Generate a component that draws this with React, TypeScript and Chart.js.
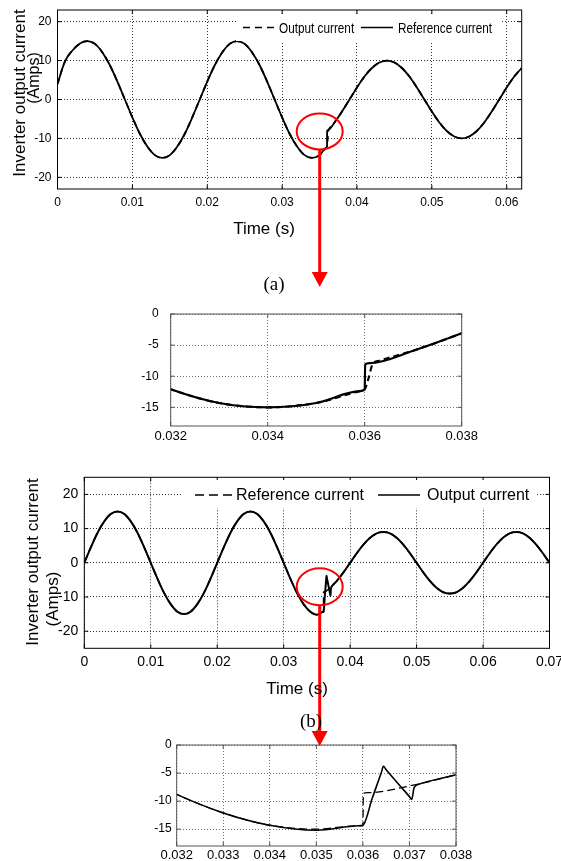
import React, { useEffect, useRef } from "react";
import { Chart, registerables } from "chart.js";

Chart.register(...registerables);

// ---------------- (a) data ----------------
const timeRefA = [0, 0.001, 0.002, 0.003, 0.004, 0.005, 0.006, 0.007, 0.008, 0.009,
  0.010, 0.011, 0.012, 0.013, 0.014, 0.015, 0.016, 0.017, 0.018, 0.019,
  0.020, 0.021, 0.022, 0.023, 0.024, 0.025, 0.026, 0.027, 0.028, 0.029,
  0.030, 0.031, 0.032, 0.033, 0.034, 0.035, 0.0359, 0.036, 0.03601, 0.0361,
  0.037, 0.038, 0.039, 0.040, 0.041, 0.042, 0.043, 0.044, 0.045, 0.046,
  0.047, 0.048, 0.049, 0.050, 0.051, 0.052, 0.053, 0.054, 0.055, 0.056,
  0.057, 0.058, 0.059, 0.060, 0.061, 0.062];
const refCurrentA = [4.0, 9.8, 12.6, 14.4, 15.0, 14.3, 12.1, 8.8, 4.6, 0,
  -4.6, -8.8, -12.1, -14.3, -15.0, -14.3, -12.1, -8.8, -4.6, 0,
  4.6, 8.8, 12.1, 14.3, 15.0, 14.3, 12.1, 8.8, 4.6, 0,
  -4.6, -8.8, -12.1, -14.3, -15.0, -14.3, -12.4, -12.1, -8.1, -7.9,
  -5.9, -3.1, 0, 3.1, 5.9, 8.1, 9.5, 10.0, 9.5, 8.1,
  5.9, 3.1, 0, -3.1, -5.9, -8.1, -9.5, -10.0, -9.5, -8.1,
  -5.9, -3.1, 0, 3.1, 5.9, 8.1];
const timeOutA = [0, 0.001, 0.002, 0.003, 0.004, 0.005, 0.006, 0.007, 0.008, 0.009,
  0.010, 0.011, 0.012, 0.013, 0.014, 0.015, 0.016, 0.017, 0.018, 0.019,
  0.020, 0.021, 0.022, 0.023, 0.024, 0.025, 0.026, 0.027, 0.028, 0.029,
  0.030, 0.031, 0.032, 0.033, 0.034, 0.035, 0.0359, 0.036, 0.03608, 0.03616, 0.0363,
  0.037, 0.038, 0.039, 0.040, 0.041, 0.042, 0.043, 0.044, 0.045, 0.046,
  0.047, 0.048, 0.049, 0.050, 0.051, 0.052, 0.053, 0.054, 0.055, 0.056,
  0.057, 0.058, 0.059, 0.060, 0.061, 0.062];
const outCurrentA = [4.0, 9.8, 12.6, 14.4, 15.0, 14.3, 12.1, 8.8, 4.6, 0,
  -4.6, -8.8, -12.1, -14.3, -15.0, -14.3, -12.1, -8.8, -4.6, 0,
  4.6, 8.8, 12.1, 14.3, 15.0, 14.3, 12.1, 8.8, 4.6, 0,
  -4.6, -8.8, -12.1, -14.3, -15.0, -14.3, -12.4, -12.1, -10.3, -8.1, -7.5,
  -5.9, -3.1, 0, 3.1, 5.9, 8.1, 9.5, 10.0, 9.5, 8.1,
  5.9, 3.1, 0, -3.1, -5.9, -8.1, -9.5, -10.0, -9.5, -8.1,
  -5.9, -3.1, 0, 3.1, 5.9, 8.1];

// ---------------- (b) data ----------------
const timeRefB = [0, 0.001, 0.002, 0.003, 0.004, 0.005, 0.006, 0.007, 0.008, 0.009,
  0.010, 0.011, 0.012, 0.013, 0.014, 0.015, 0.016, 0.017, 0.018, 0.019,
  0.020, 0.021, 0.022, 0.023, 0.024, 0.025, 0.026, 0.027, 0.028, 0.029,
  0.030, 0.031, 0.032, 0.033, 0.034, 0.035, 0.0359, 0.036, 0.03601, 0.0361,
  0.037, 0.038, 0.039, 0.040, 0.041, 0.042, 0.043, 0.044, 0.045, 0.046,
  0.047, 0.048, 0.049, 0.050, 0.051, 0.052, 0.053, 0.054, 0.055, 0.056,
  0.057, 0.058, 0.059, 0.060, 0.061, 0.062, 0.063, 0.064, 0.065, 0.066,
  0.067, 0.068, 0.069, 0.070];
const refCurrentB = [0, 4.6, 8.8, 12.1, 14.3, 15.0, 14.3, 12.1, 8.8, 4.6,
  0, -4.6, -8.8, -12.1, -14.3, -15.0, -14.3, -12.1, -8.8, -4.6,
  0, 4.6, 8.8, 12.1, 14.3, 15.0, 14.3, 12.1, 8.8, 4.6,
  0, -4.6, -8.8, -12.1, -14.3, -15.0, -14.4, -14.3, -8.6, -8.5,
  -7.3, -5.3, -2.8, 0, 2.8, 5.3, 7.3, 8.6, 9.0, 8.6,
  7.3, 5.3, 2.8, 0, -2.8, -5.3, -7.3, -8.6, -9.0, -8.6,
  -7.3, -5.3, -2.8, 0, 2.8, 5.3, 7.3, 8.6, 9.0, 8.6,
  7.3, 5.3, 2.8, 0];
const timeOutB = [0, 0.001, 0.002, 0.003, 0.004, 0.005, 0.006, 0.007, 0.008, 0.009,
  0.010, 0.011, 0.012, 0.013, 0.014, 0.015, 0.016, 0.017, 0.018, 0.019,
  0.020, 0.021, 0.022, 0.023, 0.024, 0.025, 0.026, 0.027, 0.028, 0.029,
  0.030, 0.031, 0.032, 0.033, 0.034, 0.035, 0.0359, 0.036,
  0.0362, 0.0364, 0.03644, 0.0365, 0.0368, 0.0370, 0.03705, 0.0371, 0.0372,
  0.038, 0.039, 0.040, 0.041, 0.042, 0.043, 0.044, 0.045, 0.046,
  0.047, 0.048, 0.049, 0.050, 0.051, 0.052, 0.053, 0.054, 0.055, 0.056,
  0.057, 0.058, 0.059, 0.060, 0.061, 0.062, 0.063, 0.064, 0.065, 0.066,
  0.067, 0.068, 0.069, 0.070];
const outCurrentB = [0, 4.6, 8.8, 12.1, 14.3, 15.0, 14.3, 12.1, 8.8, 4.6,
  0, -4.6, -8.8, -12.1, -14.3, -15.0, -14.3, -12.1, -8.8, -4.6,
  0, 4.6, 8.8, 12.1, 14.3, 15.0, 14.3, 12.1, 8.8, 4.6,
  0, -4.6, -8.8, -12.1, -14.3, -15.2, -14.4, -14.3,
  -9.5, -4.8, -3.8, -4.4, -7.3, -9.2, -9.7, -7.6, -7.0,
  -5.3, -2.8, 0, 2.8, 5.3, 7.3, 8.6, 9.0, 8.6,
  7.3, 5.3, 2.8, 0, -2.8, -5.3, -7.3, -8.6, -9.0, -8.6,
  -7.3, -5.3, -2.8, 0, 2.8, 5.3, 7.3, 8.6, 9.0, 8.6,
  7.3, 5.3, 2.8, 0];

// ---------------- ticks ----------------
const xTicksA = [0, 0.01, 0.02, 0.03, 0.04, 0.05, 0.06];
const xLabelsA = ["0", "0.01", "0.02", "0.03", "0.04", "0.05", "0.06"];
const xTicksB = [0, 0.01, 0.02, 0.03, 0.04, 0.05, 0.06, 0.07];
const xLabelsB = ["0", "0.01", "0.02", "0.03", "0.04", "0.05", "0.06", "0.07"];
const yTicksMain = [20, 10, 0, -10, -20];
const yLabelsMain = ["20", "10", "0", "-10", "-20"];
const xTicksZoomA = [0.032, 0.034, 0.036, 0.038];
const xLabelsZoomA = ["0.032", "0.034", "0.036", "0.038"];
const xTicksZoomB = [0.032, 0.033, 0.034, 0.035, 0.036, 0.037, 0.038];
const xLabelsZoomB = ["0.032", "0.033", "0.034", "0.035", "0.036", "0.037", "0.038"];
const yTicksZoom = [0, -5, -10, -15];
const yLabelsZoom = ["0", "-5", "-10", "-15"];

const FONT = "'Liberation Sans', Arial, Helvetica, sans-serif";
const SERIF = "'Liberation Serif', 'Times New Roman', Times, serif";

type Geo = { L: number; T: number; R: number; B: number; cx: number; cy: number; cw: number; ch: number };
type Series = { label: string; t: number[]; v: number[]; dash: number[]; width: number };
type Mark = { x: number; y: number; rx: number; ry: number; tipY: number };
type Panel = {
  geo: Geo;
  series: Series[];
  lw: number;
  xRange: [number, number];
  xTicks: number[];
  xLabels: string[];
  yRange: [number, number];
  yTicks: number[];
  yLabels: string[];
  xFont: number;
  yFont: number;
  xPad: number;
  yPad: number;
  grid: string;
  frame: string;
  mark?: Mark;
};

const framePlugin = {
  id: "frame",
  afterDraw(chart: any, _args: any, opts: any) {
    const { ctx } = chart;
    const { left, top, right, bottom } = chart.chartArea;
    ctx.save();
    ctx.strokeStyle = opts.color;
    ctx.lineWidth = 1;
    ctx.strokeRect(left, top, right - left, bottom - top);
    const tl = 4;
    ctx.beginPath();
    for (const tk of chart.scales.x.ticks) {
      const px = chart.scales.x.getPixelForValue(tk.value);
      ctx.moveTo(px, bottom); ctx.lineTo(px, bottom - tl);
      ctx.moveTo(px, top); ctx.lineTo(px, top + tl);
    }
    for (const tk of chart.scales.y.ticks) {
      const py = chart.scales.y.getPixelForValue(tk.value);
      ctx.moveTo(left, py); ctx.lineTo(left + tl, py);
      ctx.moveTo(right, py); ctx.lineTo(right - tl, py);
    }
    ctx.stroke();
    const m = opts.mark;
    if (m) {
      const px = chart.scales.x.getPixelForValue(m.x);
      const py = chart.scales.y.getPixelForValue(m.y);
      ctx.strokeStyle = "#ff0000";
      ctx.fillStyle = "#ff0000";
      ctx.lineWidth = 2;
      ctx.beginPath();
      ctx.ellipse(px, py, m.rx, m.ry, 0, 0, Math.PI * 2);
      ctx.stroke();
      const tip = m.tipY - opts.canvasTop;
      const head = 15;
      ctx.lineWidth = 3;
      ctx.beginPath();
      ctx.moveTo(px, py + m.ry);
      ctx.lineTo(px, tip - head + 1);
      ctx.stroke();
      ctx.beginPath();
      ctx.moveTo(px - 8, tip - head);
      ctx.lineTo(px + 8, tip - head);
      ctx.lineTo(px, tip);
      ctx.closePath();
      ctx.fill();
    }
    ctx.restore();
  },
};

function buildConfig(p: Panel): any {
  const g = p.geo;
  return {
    type: "line",
    data: {
      datasets: p.series.map((s) => ({
        label: s.label,
        data: s.t.map((t, i) => ({ x: t, y: s.v[i] })),
        borderColor: "#000",
        borderWidth: s.width * p.lw,
        borderDash: s.dash,
        pointRadius: 0,
        fill: false,
        cubicInterpolationMode: "monotone",
      })),
    },
    options: {
      responsive: false,
      maintainAspectRatio: false,
      animation: false,
      events: [],
      layout: { padding: { left: 0, top: g.T - g.cy, right: g.cx + g.cw - g.R, bottom: 0 } },
      plugins: {
        legend: { display: false },
        tooltip: { enabled: false },
        frame: { color: p.frame, mark: p.mark, canvasTop: g.cy },
      },
      scales: {
        x: {
          type: "linear",
          min: p.xRange[0],
          max: p.xRange[1],
          afterBuildTicks: (s: any) => { s.ticks = p.xTicks.map((v) => ({ value: v })); },
          afterFit: (s: any) => { s.height = g.cy + g.ch - g.B; s.paddingLeft = 0; s.paddingRight = 0; },
          ticks: {
            autoSkip: false,
            maxRotation: 0,
            padding: p.xPad,
            color: "#000",
            font: { family: FONT, size: p.xFont },
            callback: (_v: any, i: number) => p.xLabels[i],
          },
          grid: { color: p.grid, lineWidth: 1, drawTicks: false },
          border: { display: false, dash: [1, 2] },
        },
        y: {
          type: "linear",
          min: p.yRange[0],
          max: p.yRange[1],
          afterBuildTicks: (s: any) => { s.ticks = p.yTicks.map((v) => ({ value: v })); },
          afterFit: (s: any) => { s.width = g.L - g.cx; s.paddingTop = 0; s.paddingBottom = 0; },
          ticks: {
            padding: p.yPad,
            color: "#000",
            font: { family: FONT, size: p.yFont },
            callback: (_v: any, i: number) => p.yLabels[i],
          },
          grid: { color: p.grid, lineWidth: 1, drawTicks: false },
          border: { display: false, dash: [1, 2] },
        },
      },
    },
    plugins: [framePlugin],
  };
}

function PanelCanvas({ panel }: { panel: Panel }) {
  const ref = useRef<HTMLCanvasElement | null>(null);
  useEffect(() => {
    const chart = new Chart(ref.current as HTMLCanvasElement, buildConfig(panel));
    return () => chart.destroy();
  }, []);
  const g = panel.geo;
  return (
    <canvas
      ref={ref}
      width={g.cw}
      height={g.ch}
      style={{ position: "absolute", left: g.cx, top: g.cy, width: g.cw, height: g.ch }}
    />
  );
}

const seriesA: Series[] = [
  { label: "Output current", t: timeOutA, v: outCurrentA, dash: [6, 4], width: 1.8 },
  { label: "Reference current", t: timeRefA, v: refCurrentA, dash: [], width: 1.8 },
];
const seriesB: Series[] = [
  { label: "Reference current", t: timeRefB, v: refCurrentB, dash: [8, 4], width: 1.6 },
  { label: "Output current", t: timeOutB, v: outCurrentB, dash: [], width: 2 },
];

const panelA: Panel = {
  geo: { L: 57.5, T: 10, R: 521.7, B: 189, cx: 0, cy: 0, cw: 561, ch: 292 },
  series: seriesA, lw: 1,
  xRange: [0, 0.062], xTicks: xTicksA, xLabels: xLabelsA,
  yRange: [-23, 23], yTicks: yTicksMain, yLabels: yLabelsMain,
  xFont: 12, yFont: 12, xPad: 6, yPad: 6, grid: "#333", frame: "#000",
  mark: { x: 0.03502, y: -8.2, rx: 23, ry: 18, tipY: 287 },
};
const panelZA: Panel = {
  geo: { L: 170.7, T: 314, R: 461.7, B: 426, cx: 90, cy: 300, cw: 410, ch: 148 },
  series: seriesA, lw: 1.2,
  xRange: [0.032, 0.038], xTicks: xTicksZoomA, xLabels: xLabelsZoomA,
  yRange: [-18, 0], yTicks: yTicksZoom, yLabels: yLabelsZoom,
  xFont: 13, yFont: 12, xPad: 3, yPad: 12, grid: "#777", frame: "#555",
};
const panelB: Panel = {
  geo: { L: 84.3, T: 477.3, R: 549.5, B: 648.3, cx: 0, cy: 465, cw: 561, ch: 285 },
  series: seriesB, lw: 1,
  xRange: [0, 0.07], xTicks: xTicksB, xLabels: xLabelsB,
  yRange: [-25, 25], yTicks: yTicksMain, yLabels: yLabelsMain,
  xFont: 14, yFont: 14, xPad: 5, yPad: 6, grid: "#333", frame: "#000",
  mark: { x: 0.03542, y: -7.0, rx: 23, ry: 18.5, tipY: 746 },
};
const panelZB: Panel = {
  geo: { L: 176.7, T: 745, R: 456, B: 846, cx: 90, cy: 732, cw: 410, ch: 129 },
  series: seriesB, lw: 0.8,
  xRange: [0.032, 0.038], xTicks: xTicksZoomB, xLabels: xLabelsZoomB,
  yRange: [-18, 0], yTicks: yTicksZoom, yLabels: yLabelsZoom,
  xFont: 13, yFont: 12, xPad: 2, yPad: 5, grid: "#777", frame: "#555",
};

function CText({ x, y, text, size, rot = 0, family = FONT }: any) {
  return (
    <div
      style={{
        position: "absolute", left: x, top: y,
        transform: `translate(-50%, -50%) rotate(${rot}deg)`,
        fontFamily: family, fontSize: size, lineHeight: 1, whiteSpace: "nowrap", color: "#000",
      }}
    >
      {text}
    </div>
  );
}

function LText({ x, y, text, size, sx = 1 }: any) {
  return (
    <div
      style={{
        position: "absolute", left: x, top: y,
        transform: `translateY(-50%) scaleX(${sx})`, transformOrigin: "left center",
        fontFamily: FONT, fontSize: size, lineHeight: 1, whiteSpace: "nowrap", color: "#000",
      }}
    >
      {text}
    </div>
  );
}

export default function App() {
  return (
    <div style={{ position: "absolute", left: 0, top: 0, width: 561, height: 861, overflow: "hidden", background: "#fff" }}>
      <PanelCanvas panel={panelZA} />
      <PanelCanvas panel={panelZB} />
      <PanelCanvas panel={panelA} />
      <PanelCanvas panel={panelB} />
      <svg width={561} height={861} style={{ position: "absolute", left: 0, top: 0, pointerEvents: "none" }}>
        <rect x={236} y={14} width={266} height={27} fill="#fff" />
        <line x1={243} y1={27.5} x2={275} y2={27.5} stroke="#000" strokeWidth={1.5} strokeDasharray="7 5" />
        <line x1={361} y1={27.5} x2={393} y2={27.5} stroke="#000" strokeWidth={1.5} />
        <rect x={182} y={480} width={354} height={28} fill="#fff" />
        <line x1={195} y1={495} x2={233} y2={495} stroke="#000" strokeWidth={1.5} strokeDasharray="9 5" />
        <line x1={378} y1={495} x2={420} y2={495} stroke="#000" strokeWidth={1.5} />
      </svg>
      <LText x={279} y={27.5} text="Output current" size={14} sx={0.84} />
      <LText x={398} y={27.5} text="Reference current" size={14} sx={0.84} />
      <LText x={236} y={495} text="Reference current" size={16} />
      <LText x={427} y={495} text="Output current" size={16} />

      <CText x={19} y={93} text="Inverter output current" size={17} rot={-90} />
      <CText x={34} y={78} text="(Amps)" size={16} rot={-90} />
      <CText x={264} y={228} text="Time (s)" size={17} />
      <CText x={274} y={283} text="(a)" size={19} family={SERIF} />

      <CText x={31.5} y={562} text="Inverter output current" size={17} rot={-90} />
      <CText x={52} y={599} text="(Amps)" size={17} rot={-90} />
      <CText x={297} y={688} text="Time (s)" size={17} />
      <CText x={311} y={720} text="(b)" size={19} family={SERIF} />
    </div>
  );
}
